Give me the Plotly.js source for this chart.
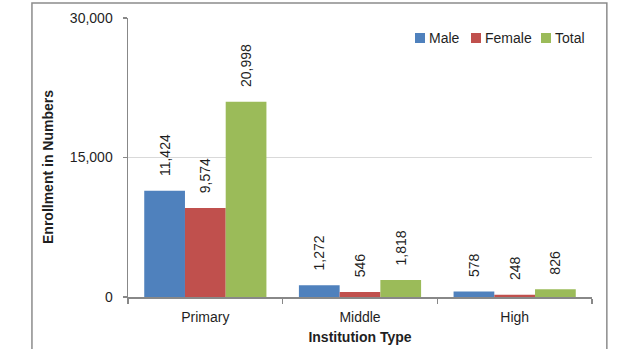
<!DOCTYPE html>
<html><head><meta charset="utf-8">
<script src="https://cdn.plot.ly/plotly-3.0.1.min.js"></script>
<style>html,body{margin:0;padding:0;background:#fff}#chart{width:617px;height:349px}</style>
</head><body><div id="chart"></div>
<script>
const categories = ["Primary", "Middle", "High"];
const seriesNames = ["Male", "Female", "Total"];
const male = [11424, 1272, 578];
const female = [9574, 546, 248];
const total = [20998, 1818, 826];
const colors = ["#4F81BD", "#C0504D", "#9BBB59"];
const yTicks = [0, 15000, 30000];
const yTickText = ["0", "15,000", "30,000"];

const font = "Liberation Sans, Arial, sans-serif";
const txt = "#1f1f1f";
const pad = "\u00a0\u00a0\u00a0";
const fmt = v => pad + v.toLocaleString("en-US");
const data = [male, female, total].map((vals, i) => ({
  type: "bar", name: seriesNames[i], x: categories, y: vals,
  marker: {color: colors[i]},
  text: vals.map(fmt), textposition: "outside", textangle: -90,
  textfont: {family: font, size: 14, color: txt},
  constraintext: "none", cliponaxis: false, hoverinfo: "none", showlegend: false
}));

// legend drawn from series names/colours
const legendSquares = [[415, 471, 541]][0];
const toPX = px => (px - 128) / 464;
const toPY = py => (297 - py) / 279;
const shapes = [{type: "rect", xref: "paper", yref: "paper", x0: -0.207, x1: 1.032, y0: -0.3, y1: 1.054,
  line: {color: "#8c8c8c", width: 1.5}, fillcolor: "rgba(0,0,0,0)", layer: "below"}];
const annotations = [{
  text: "Enrollment in Numbers", xref: "paper", yref: "paper", x: toPX(48), y: toPY(167),
  xanchor: "center", yanchor: "middle", textangle: -90, showarrow: false,
  font: {family: font, size: 14, color: txt, weight: "bold"}
}];
seriesNames.forEach((n, i) => {
  const sx = legendSquares[i];
  shapes.push({type: "rect", xref: "paper", yref: "paper", x0: toPX(sx), x1: toPX(sx + 10),
    y0: toPY(43), y1: toPY(33), fillcolor: colors[i], line: {width: 0}});
  annotations.push({text: n, xref: "paper", yref: "paper", x: toPX(sx + 12), y: toPY(38),
    xanchor: "left", yanchor: "middle", showarrow: false,
    font: {family: font, size: 14, color: txt}});
});

const layout = {
  width: 617, height: 349,
  margin: {l: 128, r: 25, t: 18, b: 52},
  paper_bgcolor: "#fff", plot_bgcolor: "#fff",
  font: {family: font, size: 14, color: txt},
  barmode: "group", bargap: 0.21, bargroupgap: 0,
  showlegend: false,
  xaxis: {
    type: "category", tickson: "boundaries", ticks: "outside", ticklen: 5, tickcolor: "#888",
    showline: true, linecolor: "#888", linewidth: 1.5, tickwidth: 1.5,
    tickfont: {size: 14, color: txt}, ticklabelstandoff: 7,
    title: {text: "Institution Type", font: {size: 14, color: txt, weight: "bold"}, standoff: 8}
  },
  yaxis: {
    range: [0, 30000], tickvals: yTicks, ticktext: yTickText,
    ticks: "outside", ticklen: 4, tickcolor: "#888", tickwidth: 1.5,
    showline: true, linecolor: "#888", linewidth: 1.5,
    showgrid: true, gridcolor: "#d9d9d9", gridwidth: 1.5, zeroline: false,
    tickfont: {size: 14, color: txt}, ticklabelstandoff: 7
  },
  shapes: shapes,
  annotations: annotations
};
Plotly.newPlot("chart", data, layout, {displayModeBar: false, staticPlot: true});
</script></body></html>
